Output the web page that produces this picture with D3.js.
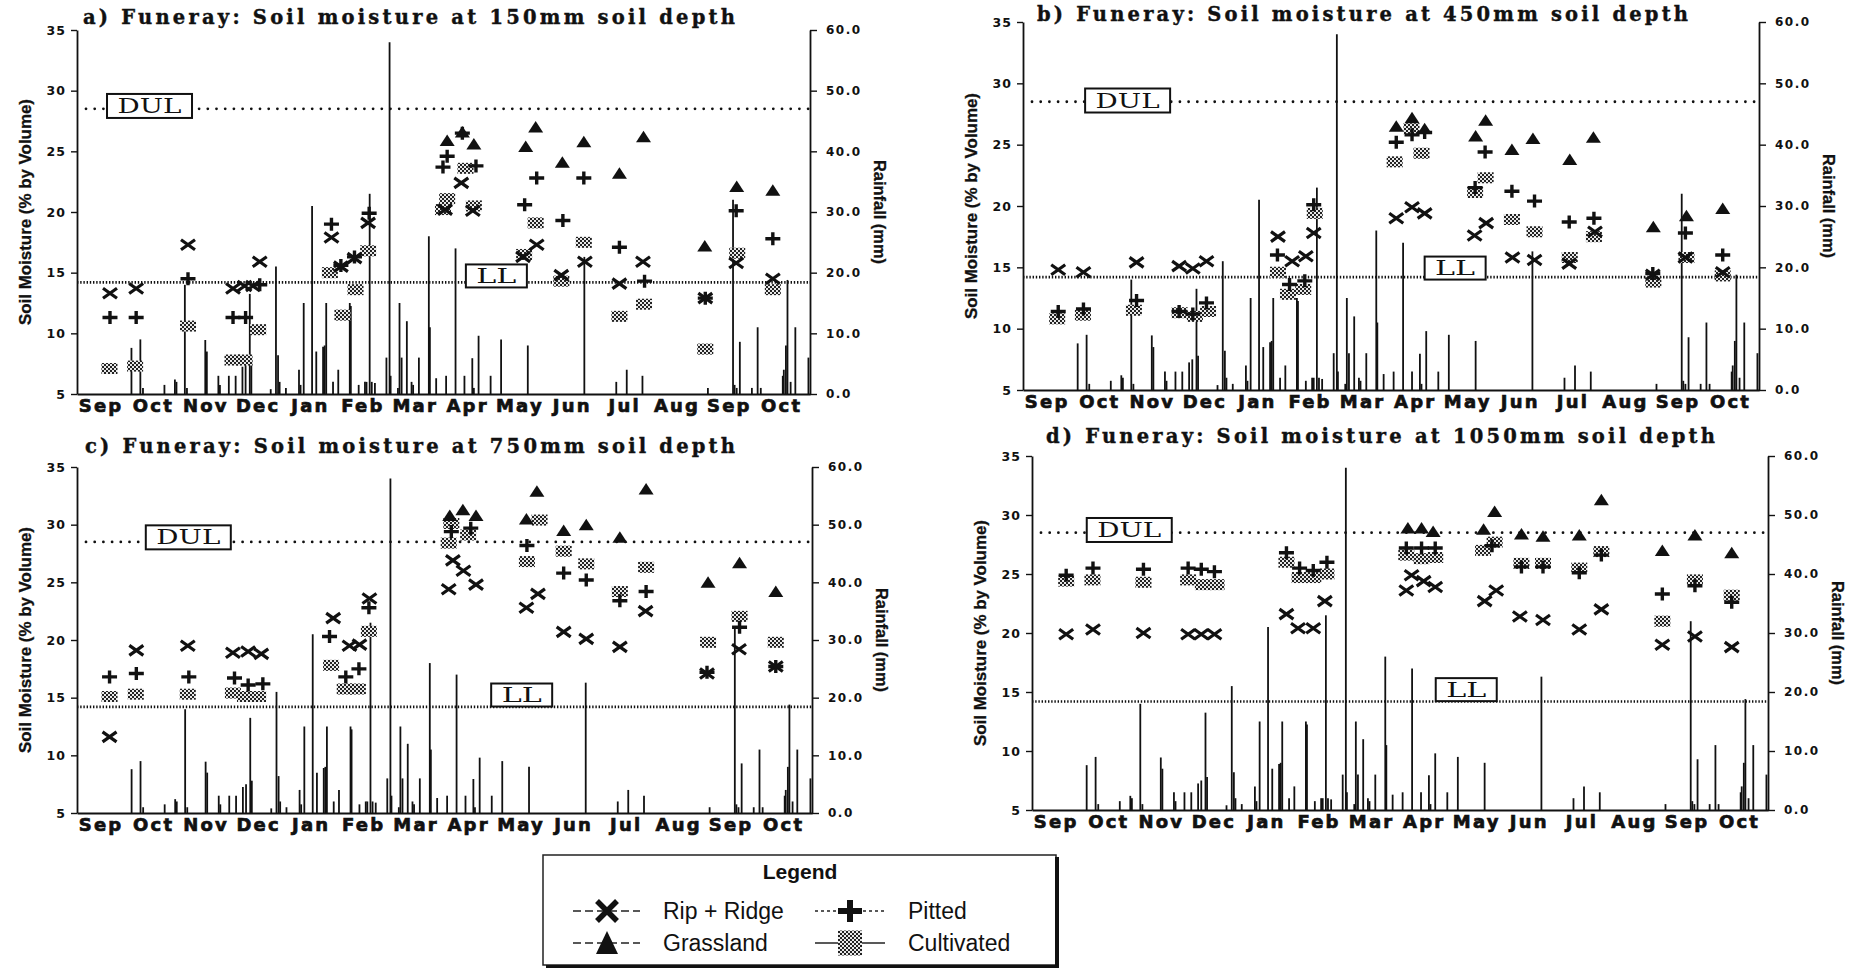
<!DOCTYPE html>
<html><head><meta charset="utf-8">
<script src="https://cdn.jsdelivr.net/npm/d3@7/dist/d3.min.js"></script>
<style>
body{margin:0;background:#fff;}
svg{display:block;}
</style></head><body>
<svg id="chart" width="1863" height="971"></svg>
<script>
// ---------------- DATA ----------------
const months = ["Sep","Oct","Nov","Dec","Jan","Feb","Mar","Apr","May","Jun","Jul","Aug","Sep","Oct"];
const moistureTicks = [5,10,15,20,25,30,35];
const rainTicks = [0,10,20,30,40,50,60];
const DUL = 28.5, LL = 14.2;
const legendItems = ["Rip + Ridge","Pitted","Grassland","Cultivated"];
const titles = [
  "a) Funeray: Soil moisture at 150mm soil depth",
  "b) Funeray: Soil moisture at 450mm soil depth",
  "c) Funeray: Soil moisture at 750mm soil depth",
  "d) Funeray: Soil moisture at 1050mm soil depth"
];

// daily rainfall (mm): [month position (0 = start of Sep), mm]
const rainfall = [[1.04,7.6],[1.21,9.0],[1.26,1.0],[1.67,1.5],[1.87,2.4],[1.9,2.0],[2.06,18.0],[2.1,1.0],
 [2.45,8.9],[2.48,7.0],[2.7,3.0],[2.73,1.5],[2.9,3.0],[3.03,3.0],[3.16,4.5],[3.22,5.0],[3.3,16.5],[3.33,5.6],
 [3.7,0.8],[3.8,21.0],[3.84,6.4],[3.87,2.0],[3.99,1.0],[4.24,4.0],[4.27,1.5],[4.33,15.0],[4.49,31.0],[4.57,7.0],
 [4.7,7.8],[4.73,8.0],[4.76,15.0],[4.89,2.0],[4.99,4.0],[5.21,15.0],[5.23,14.5],[5.38,1.5],[5.5,2.0],[5.53,2.0],
 [5.59,33.0],[5.63,2.0],[5.69,1.8],[5.91,6.0],[5.97,58.0],[5.99,3.0],[6.13,1.0],[6.16,15.0],[6.2,6.0],[6.3,12.0],
 [6.39,2.0],[6.42,1.5],[6.53,6.0],[6.72,26.0],[6.74,11.0],[6.86,2.6],[7.05,3.0],[7.23,24.0],[7.4,3.0],[7.55,5.9],
 [7.58,1.0],[7.67,9.6],[7.9,3.0],[8.1,9.0],[8.61,8.0],[9.69,22.6],[10.3,2.0],[10.5,4.0],[10.8,3.0],[12.05,1.0],
 [12.53,32.0],[12.56,1.5],[12.6,1.0],[12.66,8.6],[12.89,1.0],[13.0,11.0],[13.06,1.0],[13.48,3.0],[13.5,4.0],
 [13.54,8.0],[13.57,18.8],[13.63,2.0],[13.72,11.0],[13.97,6.0]];

// soil moisture (% by volume): [month position, value]
const ripA = [[0.63,13.3],[1.13,13.7],[2.12,17.3],[2.98,13.7],[3.2,13.9],[3.36,13.9],[3.49,15.9],[4.86,17.9],[5.04,15.5],[5.3,16.2],[5.56,19.1],[7.03,20.2],[7.34,22.4],[7.56,20.1],[8.52,16.3],[8.78,17.3],[9.25,14.8],[9.7,15.9],[10.36,14.1],[10.81,15.9],[12.0,12.9],[12.59,15.8],[13.29,14.5]];
const pitA = [[0.63,11.3],[1.13,11.3],[2.12,14.5],[2.98,11.3],[3.22,11.3],[3.49,14.0],[4.86,19.0],[5.04,15.6],[5.3,16.3],[5.58,19.9],[6.99,23.7],[7.07,24.6],[7.36,26.5],[7.62,23.8],[8.55,20.6],[8.78,22.8],[9.28,19.3],[9.68,22.8],[10.36,17.1],[10.84,14.3],[12.0,12.9],[12.59,20.1],[13.29,17.8]];
const grassA = [[7.07,25.9],[7.36,26.6],[7.58,25.6],[8.57,25.4],[8.76,27.0],[9.27,24.1],[9.68,25.8],[10.36,23.2],[10.82,26.2],[11.99,17.2],[12.6,22.1],[13.29,21.8]];
const cultA = [[0.62,7.1],[1.11,7.3],[2.12,10.6],[2.97,7.8],[3.2,7.8],[3.46,10.3],[4.83,15.0],[5.07,11.5],[5.32,13.6],[5.56,16.8],[6.99,20.2],[7.07,21.1],[7.42,23.6],[7.58,20.5],[8.54,16.5],[8.76,19.1],[9.25,14.3],[9.68,17.5],[10.36,11.4],[10.83,12.4],[12.0,8.7],[12.61,16.6],[13.29,13.6]];

const ripB = [[0.67,14.8],[1.15,14.6],[2.16,15.4],[2.97,15.1],[3.23,14.9],[3.49,15.5],[4.85,17.5],[5.12,15.5],[5.38,15.9],[5.53,17.8],[7.1,19.0],[7.4,19.9],[7.64,19.4],[8.59,17.6],[8.81,18.6],[9.31,15.8],[9.73,15.6],[10.39,15.3],[10.88,17.9],[11.98,14.4],[12.6,15.8],[13.31,14.6]];
const pitB = [[0.67,11.4],[1.15,11.6],[2.16,12.3],[2.97,11.4],[3.23,11.2],[3.49,12.1],[4.84,16.0],[5.07,13.6],[5.36,13.9],[5.53,20.1],[7.1,25.2],[7.4,25.8],[7.64,26.0],[8.6,21.5],[8.79,24.4],[9.3,21.2],[9.73,20.4],[10.39,18.7],[10.86,19.0],[11.98,14.5],[12.6,17.8],[13.31,16.0]];
const grassB = [[7.1,26.5],[7.4,27.2],[7.64,26.3],[8.61,25.7],[8.8,27.0],[9.3,24.6],[9.7,25.5],[10.4,23.8],[10.85,25.6],[11.99,18.3],[12.62,19.2],[13.31,19.8]];
const cultB = [[0.65,10.8],[1.14,11.1],[2.11,11.5],[2.98,11.3],[3.27,11.0],[3.52,11.4],[4.85,14.6],[5.04,12.8],[5.33,13.2],[5.55,19.4],[7.07,23.6],[7.39,26.3],[7.58,24.3],[8.6,21.1],[8.8,22.3],[9.3,18.9],[9.73,17.9],[10.4,15.8],[10.86,17.5],[11.99,13.8],[12.62,15.8],[13.31,14.3]];

const ripC = [[0.62,11.6],[1.13,19.1],[2.11,19.5],[2.97,18.9],[3.26,19.0],[3.51,18.8],[4.88,21.9],[5.19,19.5],[5.38,19.6],[5.57,23.6],[7.08,24.4],[7.16,26.9],[7.36,26.0],[7.6,24.8],[8.56,22.8],[8.78,24.0],[9.27,20.7],[9.7,20.1],[10.34,19.4],[10.83,22.5],[12.0,17.1],[12.61,19.2],[13.31,17.7]];
const pitC = [[0.62,16.8],[1.13,17.1],[2.13,16.8],[3.0,16.7],[3.26,16.1],[3.54,16.2],[4.81,20.3],[5.12,16.8],[5.37,17.5],[5.56,22.8],[7.13,29.4],[7.5,29.7],[8.57,28.2],[9.27,25.8],[9.7,25.2],[10.34,23.4],[10.84,24.2],[12.0,17.2],[12.62,21.1],[13.31,17.7]];
const grassC = [[7.1,30.8],[7.35,31.3],[7.6,30.8],[8.56,30.5],[8.76,32.9],[9.27,29.5],[9.7,30.0],[10.34,28.9],[10.84,33.1],[12.02,25.0],[12.62,26.7],[13.31,24.2]];
const cultC = [[0.62,15.1],[1.12,15.3],[2.11,15.3],[2.97,15.4],[3.2,15.1],[3.45,15.1],[4.84,17.8],[5.1,15.75],[5.35,15.75],[5.56,20.75],[7.08,28.4],[7.13,30.1],[7.45,29.1],[8.57,26.8],[8.81,30.4],[9.27,27.7],[9.7,26.6],[10.34,24.2],[10.84,26.3],[12.02,19.8],[12.62,22.05],[13.31,19.8]];

const ripD = [[0.65,19.9],[1.16,20.3],[2.12,20.0],[2.97,19.9],[3.22,19.9],[3.47,19.9],[4.84,21.6],[5.06,20.4],[5.35,20.4],[5.57,22.7],[7.12,23.6],[7.22,24.9],[7.45,24.4],[7.67,23.9],[8.61,22.7],[8.83,23.6],[9.28,21.4],[9.72,21.1],[10.41,20.3],[10.83,22.0],[11.99,19.0],[12.61,19.7],[13.31,18.8]];
const pitD = [[0.65,24.9],[1.16,25.5],[2.12,25.4],[2.97,25.5],[3.22,25.4],[3.47,25.2],[4.84,26.8],[5.09,25.5],[5.35,25.3],[5.61,26.0],[7.12,27.2],[7.41,27.2],[7.67,27.2],[8.75,27.4],[9.31,25.6],[9.72,25.6],[10.41,25.1],[10.83,26.6],[11.99,23.3],[12.61,24.0],[13.31,22.6]];
const grassD = [[7.15,28.9],[7.41,28.9],[7.63,28.6],[8.59,28.8],[8.8,30.3],[9.31,28.4],[9.72,28.2],[10.41,28.3],[10.83,31.3],[11.99,27.0],[12.61,28.3],[13.31,26.8]];
const cultD = [[0.65,24.4],[1.15,24.5],[2.12,24.3],[2.97,24.5],[3.25,24.1],[3.51,24.1],[4.84,26.0],[5.09,24.7],[5.35,24.7],[5.6,25.0],[7.12,26.6],[7.41,26.3],[7.67,26.4],[8.58,27.0],[8.8,27.7],[9.31,25.9],[9.72,25.9],[10.41,25.5],[10.83,26.9],[11.99,21.0],[12.61,24.5],[13.31,23.2]];

// ---------------- LAYOUT ----------------
const panels = [
 {title:titles[0], x0:77,  x1:810,  yT:30,  yB:394, tx:83,   ty:24,  tw:652, rip:ripA, pit:pitA, grass:grassA, cult:cultA, dulBox:[1.385,28.74], llBox:[8.01,14.73]},
 {title:titles[1], x0:1023,x1:1759, yT:22,  yB:390, tx:1037, ty:21,  tw:651, rip:ripB, pit:pitB, grass:grassB, cult:cultB, dulBox:[1.99,28.6],  llBox:[8.22,14.94]},
 {title:titles[2], x0:77,  x1:812,  yT:467, yB:813, tx:85,   ty:453, tw:650, rip:ripC, pit:pitC, grass:grassC, cult:cultC, dulBox:[2.12,28.9],  llBox:[8.47,15.23]},
 {title:titles[3], x0:1032,x1:1768, yT:456, yB:810, tx:1046, ty:443, tw:669, rip:ripD, pit:pitD, grass:grassD, cult:cultD, dulBox:[1.85,28.73], llBox:[8.26,15.2]}
];

const svg = d3.select("#chart");
const defs = svg.append("defs");
const pat = defs.append("pattern").attr("id","chk").attr("patternUnits","userSpaceOnUse").attr("width",4).attr("height",4);
pat.append("rect").attr("width",4).attr("height",4).attr("fill","#e8e8e8");
pat.append("rect").attr("width",2).attr("height",2).attr("fill","#222");
pat.append("rect").attr("x",2).attr("y",2).attr("width",2).attr("height",2).attr("fill","#222");

const SANS = "'DejaVu Sans', 'Liberation Sans', sans-serif";
const ARIAL = "'Liberation Sans', Arial, sans-serif";
const SERIF = "'DejaVu Serif', 'Liberation Serif', serif";

const PATH_X = "M-7,-5L7,5M-7,5L7,-5";
const PATH_PLUS = "M-7.5,0H7.5M0,-6.5V6.5";
const PATH_TRI = "M0,-6L7.5,5.5H-7.5Z";

panels.forEach(p => {
  const g = svg.append("g");
  const x = d3.scaleLinear().domain([0,14]).range([p.x0,p.x1]);
  const yM = d3.scaleLinear().domain([5,35]).range([p.yB,p.yT]);
  const yR = d3.scaleLinear().domain([0,60]).range([p.yB,p.yT]);

  // title
  g.append("text").attr("x",p.tx).attr("y",p.ty).text(p.title)
    .attr("font-family",SERIF).attr("font-weight","bold").attr("font-size",19.5)
    .attr("stroke","#111").attr("stroke-width",0.4)
    .attr("textLength",p.tw).attr("lengthAdjust","spacing").attr("fill","#111");

  // rainfall bars
  g.append("g").selectAll("line").data(rainfall).join("line")
    .attr("x1",d=>x(d[0])).attr("x2",d=>x(d[0]))
    .attr("y1",yR(0)).attr("y2",d=>yR(d[1]))
    .attr("stroke","#111").attr("stroke-width",1.8);

  // reference lines
  g.append("line").attr("x1",p.x0+9).attr("x2",p.x1).attr("y1",yM(DUL)).attr("y2",yM(DUL))
    .attr("stroke","#111").attr("stroke-width",2.8).attr("stroke-dasharray","0,8.7").attr("stroke-linecap","round");
  g.append("line").attr("x1",p.x0).attr("x2",p.x1).attr("y1",yM(LL)).attr("y2",yM(LL))
    .attr("stroke","#111").attr("stroke-width",2.6).attr("stroke-dasharray","1.4,1.8");

  // label boxes
  const box = (pos, w, h, label, tl) => {
    const cx = x(pos[0]), cy = yM(pos[1]);
    g.append("rect").attr("x",cx-w/2).attr("y",cy-h/2).attr("width",w).attr("height",h)
      .attr("fill","#fff").attr("stroke","#111").attr("stroke-width",2);
    g.append("text").attr("x",cx-tl/2).attr("y",cy+7).text(label)
      .attr("font-family",SERIF).attr("font-size",20).attr("fill","#111")
      .attr("textLength",tl).attr("lengthAdjust","spacingAndGlyphs");
  };
  box(p.dulBox, 85, 24, "DUL", 64);
  box(p.llBox, 61, 23, "LL", 40);

  // axes
  const axL = d3.axisLeft(yM).tickValues(moistureTicks).tickSize(6).tickSizeOuter(0).tickPadding(5).tickFormat(d3.format("d"));
  const gl = g.append("g").attr("transform",`translate(${p.x0},0)`).call(axL);
  const axR = d3.axisRight(yR).tickValues(rainTicks).tickSize(7).tickSizeOuter(0).tickPadding(9).tickFormat(d3.format(".1f"));
  const gr = g.append("g").attr("transform",`translate(${p.x1},0)`).call(axR);
  const axB = d3.axisBottom(x).tickValues(d3.range(14).map(i=>i+0.45)).tickFormat((d,i)=>months[i]).tickSize(0).tickSizeOuter(0).tickPadding(5);
  const gb = g.append("g").attr("transform",`translate(0,${p.yB})`).call(axB);
  [gl,gr,gb].forEach(a => {
    a.select(".domain").attr("stroke","#111").attr("stroke-width",1.8);
    a.selectAll(".tick line").attr("stroke","#111").attr("stroke-width",1.4);
    a.selectAll("text").attr("fill","#111").attr("font-family",SANS).attr("font-weight","bold");
  });
  gl.selectAll("text").attr("font-size",12.5).attr("letter-spacing",1);
  gr.selectAll("text").attr("font-size",12).attr("letter-spacing",1.5);
  gb.selectAll("text").attr("font-size",18).attr("letter-spacing",2.2).attr("stroke","#111").attr("stroke-width",0.7);

  // axis titles
  const my = (p.yT+p.yB)/2;
  g.append("text").attr("transform",`translate(${p.x0-52},${my}) rotate(-90)`)
    .attr("text-anchor","middle").attr("dy","0.35em").text("Soil Moisture (% by Volume)")
    .attr("font-family",ARIAL).attr("font-weight","bold").attr("font-size",16.5)
    .attr("stroke","#111").attr("stroke-width",0.3)
    .attr("textLength",226).attr("lengthAdjust","spacingAndGlyphs").attr("fill","#111");
  g.append("text").attr("transform",`translate(${p.x1+70},${my}) rotate(90)`)
    .attr("text-anchor","middle").attr("dy","0.35em").text("Rainfall (mm)")
    .attr("font-family",ARIAL).attr("font-weight","bold").attr("font-size",16.5)
    .attr("stroke","#111").attr("stroke-width",0.3)
    .attr("textLength",104).attr("lengthAdjust","spacingAndGlyphs").attr("fill","#111");

  // markers
  g.append("g").selectAll("rect").data(p.cult).join("rect")
    .attr("x",d=>x(d[0])-8).attr("y",d=>yM(d[1])-5.5).attr("width",16).attr("height",11)
    .attr("fill","url(#chk)");
  g.append("g").selectAll("path").data(p.grass).join("path")
    .attr("transform",d=>`translate(${x(d[0])},${yM(d[1])})`).attr("d",PATH_TRI).attr("fill","#111");
  g.append("g").selectAll("path").data(p.rip).join("path")
    .attr("transform",d=>`translate(${x(d[0])},${yM(d[1])})`).attr("d",PATH_X)
    .attr("stroke","#111").attr("stroke-width",3.2).attr("fill","none");
  g.append("g").selectAll("path").data(p.pit).join("path")
    .attr("transform",d=>`translate(${x(d[0])},${yM(d[1])})`).attr("d",PATH_PLUS)
    .attr("stroke","#111").attr("stroke-width",3.4).attr("fill","none");
});

// ---------------- LEGEND ----------------
const lg = svg.append("g");
lg.append("rect").attr("x",543).attr("y",855).attr("width",513).attr("height",110)
  .attr("fill","#fff").attr("stroke","#222").attr("stroke-width",1.5);
lg.append("line").attr("x1",1057).attr("x2",1057).attr("y1",857).attr("y2",968).attr("stroke","#111").attr("stroke-width",4);
lg.append("line").attr("x1",546).attr("x2",1059).attr("y1",966.5).attr("y2",966.5).attr("stroke","#111").attr("stroke-width",3);
lg.append("text").attr("x",800).attr("y",879).attr("text-anchor","middle").text("Legend")
  .attr("font-family",ARIAL).attr("font-weight","bold").attr("font-size",21).attr("fill","#111");

const legRows = [
  {name:legendItems[0], lx0:573, lx1:640, cx:607, cy:911, tx:663, dash:"8,4", sym:"x"},
  {name:legendItems[1], lx0:815, lx1:885, cx:850, cy:911, tx:908, dash:"3,3", sym:"plus"},
  {name:legendItems[2], lx0:573, lx1:640, cx:607, cy:943, tx:663, dash:"8,4", sym:"tri"},
  {name:legendItems[3], lx0:815, lx1:885, cx:850, cy:943, tx:908, dash:null, sym:"cult"}
];
legRows.forEach(r => {
  lg.append("line").attr("x1",r.lx0).attr("x2",r.lx1).attr("y1",r.cy).attr("y2",r.cy)
    .attr("stroke","#222").attr("stroke-width",1.3).attr("stroke-dasharray",r.dash);
  const s = lg.append("g").attr("transform",`translate(${r.cx},${r.cy})`);
  if (r.sym==="x") s.append("path").attr("d","M-10,-10L10,10M-10,10L10,-10").attr("stroke","#111").attr("stroke-width",5.5);
  if (r.sym==="plus") s.append("path").attr("d","M-12,0H12M0,-11V11").attr("stroke","#111").attr("stroke-width",6);
  if (r.sym==="tri") s.append("path").attr("d","M0,-12L11,11H-11Z").attr("fill","#111");
  if (r.sym==="cult") s.append("rect").attr("x",-12).attr("y",-12.5).attr("width",24).attr("height",25).attr("fill","url(#chk)");
  lg.append("text").attr("x",r.tx).attr("y",r.cy+8).text(r.name)
    .attr("font-family",ARIAL).attr("font-size",23).attr("fill","#111");
});
</script>
</body></html>
